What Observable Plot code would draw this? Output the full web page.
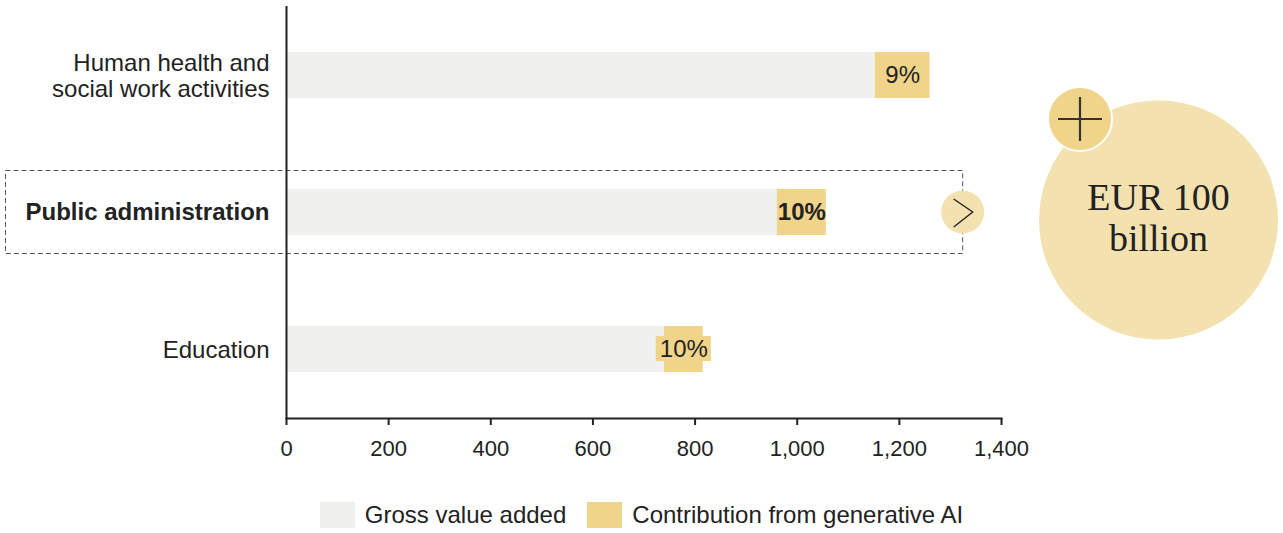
<!DOCTYPE html>
<html>
<head>
<meta charset="utf-8">
<script src="https://cdn.jsdelivr.net/npm/d3@7"></script>
<script src="https://cdn.jsdelivr.net/npm/@observablehq/plot@0.6"></script>
<style>
  html, body { margin: 0; padding: 0; background: #fff; }
  body { width: 1283px; height: 533px; overflow: hidden; font-family: "Liberation Sans", Arial, sans-serif; }
  #chart svg { display: block; }
  #legend { display: flex; justify-content: center; align-items: center; gap: 21px; margin-top: 22px; font-size: 24px; line-height: 26px; color: #222; }
  #legend .item { display: flex; align-items: center; gap: 10px; }
  #legend .sw { width: 35px; height: 26px; display: inline-block; }
</style>
</head>
<body>
<div id="chart"></div>
<div id="legend"></div>
<script>
// ---- data ----
const categories = ["Human health and social work activities", "Public administration", "Education"];
const displayLabels = ["Human health and\nsocial work activities", "Public administration", "Education"];
const highlighted = ["Public administration"];
const grossValueAdded = [1153, 961, 740];
const genAIContribution = [107, 96, 76];
const shareLabels = ["9%", "10%", "10%"];
const xTicks = [0, 200, 400, 600, 800, 1000, 1200, 1400];
const seriesNames = ["Gross value added", "Contribution from generative AI"];
const calloutLines = ["EUR 100", "billion"];

// ---- styles ----
const GRAY = "#f0f0ee";
const GOLD = "#efd48a";
const LIGHT_GOLD = "#f3e2b0";
const INK = "#222";
const FONT = "'Liberation Sans', Arial, sans-serif";

const rows = categories.map((c, i) => ({
  category: c,
  label: displayLabels[i],
  gva: grossValueAdded[i],
  ai: genAIContribution[i],
  share: shareLabels[i],
  bold: highlighted.includes(c)
}));

const W = 1283, H = 480;
const mL = 286, mR = 282, mT = 6, mB = 62;
const pxPerUnit = (W - mL - mR) / 1400;
// a label needs its own background box when the segment is narrower than the label
const needsBox = d => d.ai * pxPerUnit < d.share.length * 14 + 6;

// decorative overlay: dashed highlight box, chevron, callout circle
function decorations(index, scales, values, dimensions) {
  const g = d3.create("svg:g");
  const y0 = scales.y(highlighted[0]);
  const bw = scales.y.bandwidth();
  const boxRight = scales.x(1325);
  const top = y0 - 19, bottom = y0 + bw + 18;
  g.append("rect")
    .attr("x", 5.5).attr("y", top + 0.5)
    .attr("width", boxRight - 5.5).attr("height", bottom - top)
    .attr("fill", "none").attr("stroke", "#555").attr("stroke-width", 1)
    .attr("stroke-dasharray", "5,3");
  const cy = y0 + bw / 2;
  g.append("circle").attr("cx", boxRight).attr("cy", cy).attr("r", 21.5).attr("fill", LIGHT_GOLD);
  g.append("path")
    .attr("d", `M${boxRight - 9},${cy - 13} L${boxRight + 10},${cy} L${boxRight - 9},${cy + 15}`)
    .attr("fill", "none").attr("stroke", INK).attr("stroke-width", 1.4);
  // callout
  const bx = 1158.5, by = 220;
  g.append("circle").attr("cx", bx).attr("cy", by).attr("r", 119.5).attr("fill", LIGHT_GOLD);
  const t = g.append("text").attr("text-anchor", "middle")
    .attr("font-family", "'Liberation Serif', 'Times New Roman', serif")
    .attr("font-size", 38).attr("fill", INK);
  calloutLines.forEach((line, i) => {
    t.append("tspan").attr("x", bx).attr("y", 210 + i * 41).text(line);
  });
  const sx = 1080, sy = 119;
  g.append("circle").attr("cx", sx).attr("cy", sy).attr("r", 32).attr("fill", GOLD)
    .attr("stroke", "#fff").attr("stroke-width", 2);
  g.append("path")
    .attr("d", `M${sx - 22},${sy} H${sx + 22} M${sx},${sy - 22} V${sy + 22}`)
    .attr("stroke", "#333").attr("stroke-width", 2.2).attr("fill", "none");
  return g.node();
}

const chart = Plot.plot({
  width: W,
  height: H,
  marginLeft: mL,
  marginRight: mR,
  marginTop: mT,
  marginBottom: mB,
  style: { fontFamily: FONT, color: INK, background: "#fff", overflow: "visible" },
  x: { domain: [0, 1400], axis: null },
  y: { domain: categories, paddingInner: 0.665, paddingOuter: 0.3325, axis: null },
  marks: [
    decorations,
    Plot.barX(rows, { y: "category", x1: 0, x2: "gva", fill: GRAY }),
    Plot.barX(rows, { y: "category", x1: "gva", x2: d => d.gva + d.ai, fill: GOLD }),
    Plot.barX(rows.filter(needsBox), {
      y: "category",
      x1: d => d.gva + d.ai / 2, x2: d => d.gva + d.ai / 2,
      insetLeft: -27.5, insetRight: -27.5, insetTop: 10, insetBottom: 11,
      fill: GOLD
    }),
    Plot.text(rows.filter(d => !d.bold), {
      y: "category", x: d => d.gva + d.ai / 2, text: "share",
      fontSize: 24, fill: INK
    }),
    Plot.text(rows.filter(d => d.bold), {
      y: "category", x: d => d.gva + d.ai / 2, text: "share",
      fontSize: 24, fontWeight: "bold", fill: INK
    }),
    Plot.text(rows.filter(d => !d.bold), {
      y: "category", x: 0, text: "label", textAnchor: "end", dx: -17,
      fontSize: 24, lineHeight: 1.08, fill: INK
    }),
    Plot.text(rows.filter(d => d.bold), {
      y: "category", x: 0, text: "label", textAnchor: "end", dx: -17,
      fontSize: 24, fontWeight: "bold", fill: INK
    }),
    Plot.ruleX([0], { stroke: INK, strokeWidth: 2 }),
    Plot.frame({ anchor: "bottom", stroke: INK, strokeWidth: 2 }),
    Plot.axisX({
      ticks: xTicks, tickFormat: d3.format(","), tickSize: 7, tickPadding: 15,
      fontSize: 22, stroke: INK, strokeWidth: 2, color: INK, label: null
    })
  ]
});
document.getElementById("chart").appendChild(chart);

const legend = document.getElementById("legend");
[GRAY, GOLD].forEach((c, i) => {
  const item = document.createElement("div");
  item.className = "item";
  const sw = document.createElement("span");
  sw.className = "sw";
  sw.style.background = c;
  const lab = document.createElement("span");
  lab.textContent = seriesNames[i];
  item.appendChild(sw);
  item.appendChild(lab);
  legend.appendChild(item);
});
</script>
</body>
</html>
